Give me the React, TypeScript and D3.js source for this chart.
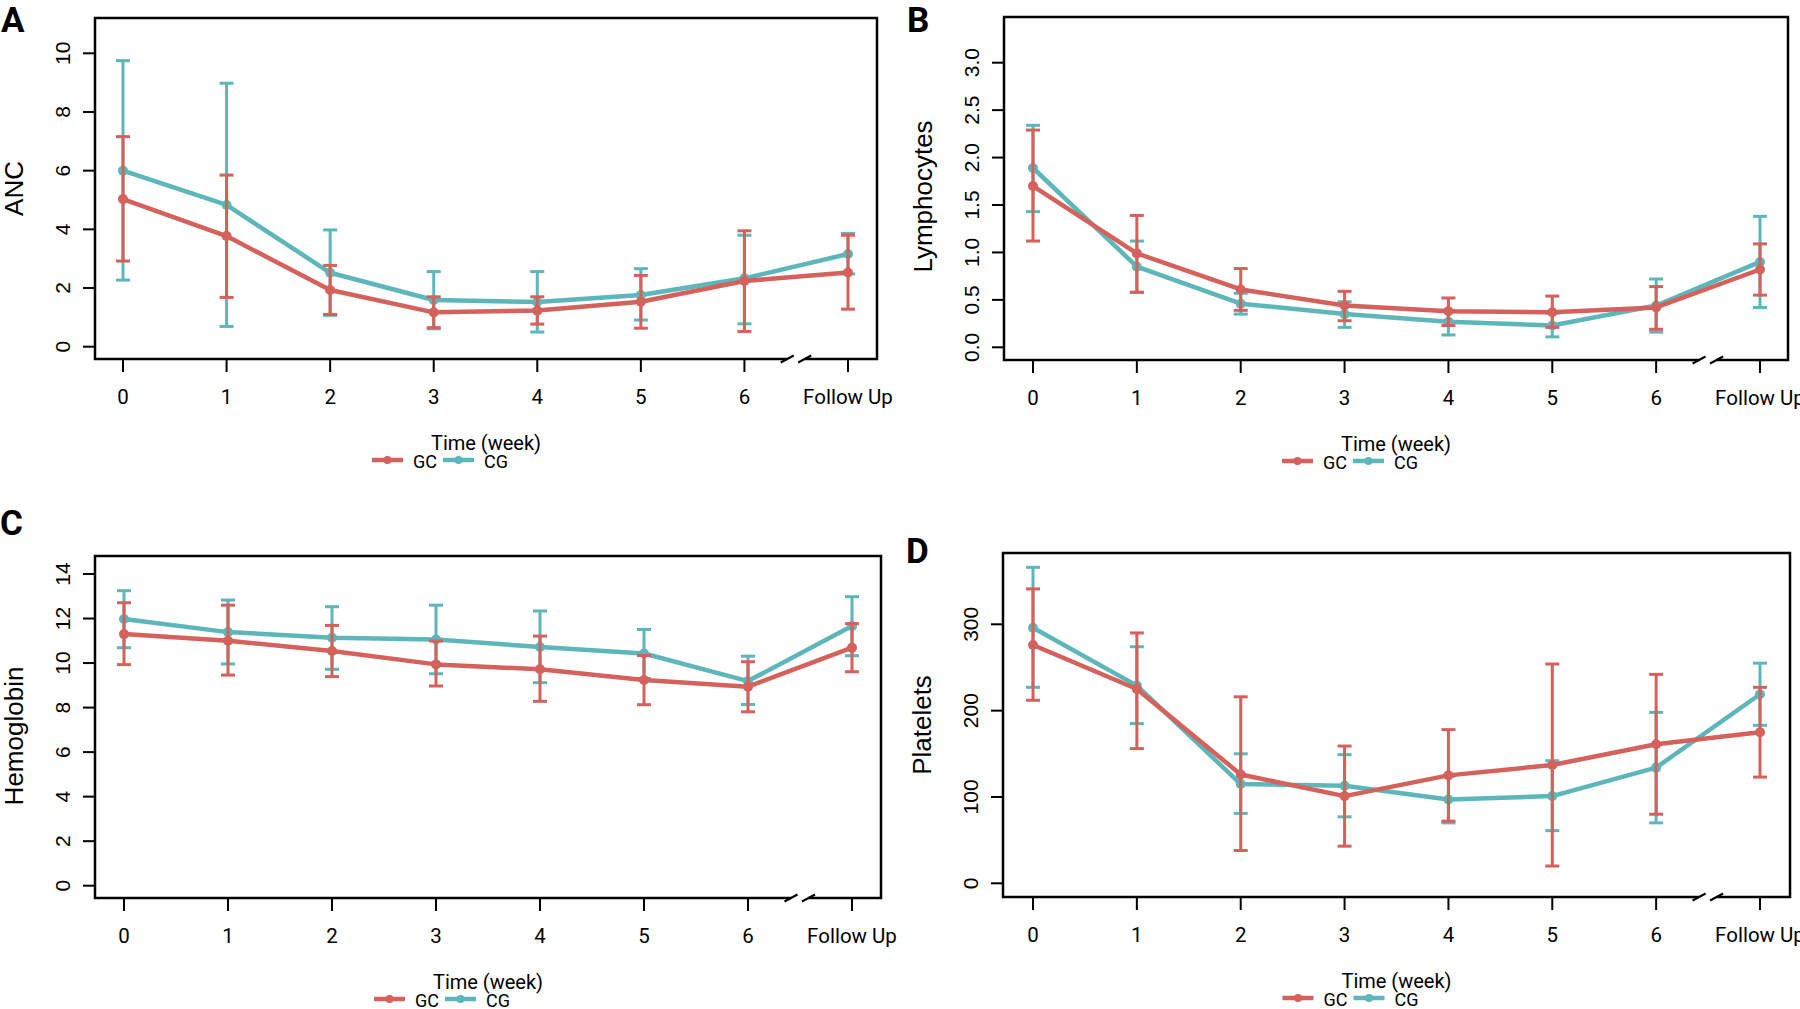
import React from 'react';
import * as d3 from 'd3';

// time points (x axis)
const weeks = ["0", "1", "2", "3", "4", "5", "6", "Follow Up"];

// A: ANC
const ancGcMean = [5.03, 3.77, 1.93, 1.17, 1.23, 1.53, 2.24, 2.53];
const ancGcHi = [7.16, 5.85, 2.77, 1.70, 1.70, 2.43, 3.95, 3.80];
const ancGcLo = [2.92, 1.68, 1.10, 0.65, 0.77, 0.63, 0.52, 1.28];
const ancCgMean = [6.00, 4.83, 2.52, 1.59, 1.52, 1.76, 2.33, 3.16];
const ancCgHi = [9.75, 8.98, 3.98, 2.56, 2.56, 2.66, 3.80, 3.86];
const ancCgLo = [2.27, 0.69, 1.07, 0.61, 0.50, 0.91, 0.78, 2.48];
const ancTicks = [0, 2, 4, 6, 8, 10];

// B: Lymphocytes
const lymGcMean = [1.70, 0.99, 0.61, 0.44, 0.38, 0.37, 0.42, 0.82];
const lymGcHi = [2.29, 1.39, 0.83, 0.59, 0.52, 0.54, 0.64, 1.09];
const lymGcLo = [1.12, 0.58, 0.39, 0.28, 0.23, 0.21, 0.19, 0.55];
const lymCgMean = [1.89, 0.85, 0.46, 0.35, 0.27, 0.23, 0.44, 0.90];
const lymCgHi = [2.34, 1.12, 0.57, 0.48, 0.39, 0.36, 0.72, 1.38];
const lymCgLo = [1.43, 0.58, 0.35, 0.21, 0.13, 0.11, 0.16, 0.42];
const lymTicks = [0, 0.5, 1, 1.5, 2, 2.5, 3];

// C: Hemoglobin
const hbGcMean = [11.30, 11.00, 10.54, 9.94, 9.72, 9.24, 8.94, 10.69];
const hbGcHi = [12.71, 12.60, 11.69, 10.99, 11.21, 10.34, 10.06, 11.77];
const hbGcLo = [9.93, 9.46, 9.39, 8.97, 8.28, 8.13, 7.81, 9.61];
const hbCgMean = [11.98, 11.39, 11.14, 11.06, 10.72, 10.43, 9.19, 11.66];
const hbCgHi = [13.25, 12.83, 12.53, 12.60, 12.34, 11.51, 10.31, 12.98];
const hbCgLo = [10.69, 9.96, 9.72, 9.52, 9.12, 9.31, 8.14, 10.33];
const hbTicks = [0, 2, 4, 6, 8, 10, 12, 14];

// D: Platelets
const pltGcMean = [276, 225, 126, 101, 125, 137, 161, 175];
const pltGcHi = [341, 290, 216, 159, 178, 254, 242, 227];
const pltGcLo = [212, 156, 38, 43, 72, 20, 80, 123];
const pltCgMean = [296, 229, 115, 113, 97, 101, 134, 219];
const pltCgHi = [366, 274, 150, 149, 124, 142, 198, 255];
const pltCgLo = [227, 185, 81, 77, 70, 61, 70, 183];
const pltTicks = [0, 100, 200, 300];

const groups = ["GC", "CG"];
const RED = "#D4615B";
const TEAL = "#5DB6BA";

const W = 1800, H = 1009;
const tickFont = "'Liberation Sans', Arial, sans-serif";
const narrowFont = "Roboto, 'Open Sans', sans-serif";

type Series = { mean: number[]; hi: number[]; lo: number[] };

const Panel = (props: any) => {
  const { letter, letterX, letterY, ylab, ylabShift, ticks, fmt, box, xPix, yDomain, yPix, gc, cg } = props;

  const x = d3.scaleLinear().domain([0, weeks.length - 1]).range(xPix);
  const y = d3.scaleLinear().domain(yDomain).range(yPix);
  const line = d3.line<number>().x((d, i) => x(i)).y(d => y(d));

  const midBreak = (x(6) + x(7)) / 2;
  const cx = (box.l + box.r) / 2;
  const cy = (box.t + box.b) / 2;

  const drawSeries = (s: Series, color: string) => (
    <g>
      <path d={line(s.mean) || ""} fill="none" stroke={color} strokeWidth={4.5} strokeLinejoin="round" />
      {s.mean.map((m, i) => (
        <g key={i}>
          <line x1={x(i)} x2={x(i)} y1={y(s.lo[i])} y2={y(s.hi[i])} stroke={color} strokeWidth={3} />
          <line x1={x(i) - 7} x2={x(i) + 7} y1={y(s.lo[i])} y2={y(s.lo[i])} stroke={color} strokeWidth={3} />
          <line x1={x(i) - 7} x2={x(i) + 7} y1={y(s.hi[i])} y2={y(s.hi[i])} stroke={color} strokeWidth={3} />
          <circle cx={x(i)} cy={y(m)} r={5} fill={color} />
        </g>
      ))}
    </g>
  );

  return (
    <g>
      <text x={letterX} y={letterY} fontFamily="'Liberation Sans Narrow', Roboto, sans-serif" fontWeight="bold" fontSize={35}>{letter}</text>

      {/* y axis */}
      {ticks.map((t: number) => (
        <g key={t}>
          <line x1={box.l - 12} x2={box.l} y1={y(t)} y2={y(t)} stroke="black" strokeWidth={2} />
          <text transform={`translate(${box.l - 25},${y(t)}) rotate(-90)`} textAnchor="middle"
            fontFamily={tickFont} fontSize={21}>{fmt(t)}</text>
        </g>
      ))}
      <text transform={`translate(${box.l - 72},${cy + ylabShift}) rotate(-90)`} textAnchor="middle"
        fontFamily={tickFont} fontSize={26}>{ylab}</text>

      {/* x axis */}
      {weeks.map((w, i) => (
        <g key={w}>
          <line x1={x(i)} x2={x(i)} y1={box.b} y2={box.b + 13} stroke="black" strokeWidth={2} />
          <text x={x(i)} y={box.b + 44.5} textAnchor="middle" fontFamily={narrowFont} fontSize={20.5}>{w}</text>
        </g>
      ))}

      {drawSeries(cg, TEAL)}
      {drawSeries(gc, RED)}

      <rect x={box.l} y={box.t} width={box.r - box.l} height={box.b - box.t} fill="none" stroke="black" strokeWidth={2.5} />

      {/* axis break */}
      <rect x={midBreak - 9} y={box.b - 2.5} width={17.5} height={5} fill="white" />
      {[midBreak - 9, midBreak + 8.5].map((c, k) => (
        <line key={k} x1={c - 6.5} x2={c + 6.5} y1={box.b + 3.5} y2={box.b - 3.5} stroke="black" strokeWidth={2} />
      ))}

      {/* legend */}
      <text x={cx} y={box.b + 91} textAnchor="middle" fontFamily={narrowFont} fontSize={20}>Time (week)</text>
      {groups.map((g, k) => {
        const color = k === 0 ? RED : TEAL;
        const x0 = cx + (k === 0 ? -114 : -43);
        return (
          <g key={g}>
            <line x1={x0} x2={x0 + 31} y1={box.b + 101} y2={box.b + 101} stroke={color} strokeWidth={4.5} />
            <circle cx={x0 + 15.5} cy={box.b + 101} r={4} fill={color} />
            <text x={x0 + 41} y={box.b + 109} fontFamily={narrowFont} fontSize={18}>{g}</text>
          </g>
        );
      })}
    </g>
  );
};

const App = () => {
  const panels = [
    {
      letter: "A", letterX: 1, letterY: 32, ylab: "ANC", ylabShift: 0, ticks: ancTicks, fmt: (v: number) => String(v),
      box: { l: 95, r: 877, t: 18, b: 359 }, xPix: [123, 848], yDomain: [0, 10], yPix: [346.7, 53.3],
      gc: { mean: ancGcMean, hi: ancGcHi, lo: ancGcLo }, cg: { mean: ancCgMean, hi: ancCgHi, lo: ancCgLo },
    },
    {
      letter: "B", letterX: 907, letterY: 32, ylab: "Lymphocytes", ylabShift: 8, ticks: lymTicks, fmt: d3.format(".1f"),
      box: { l: 1004, r: 1788, t: 17, b: 360 }, xPix: [1033, 1760], yDomain: [0, 3], yPix: [347.3, 62.7],
      gc: { mean: lymGcMean, hi: lymGcHi, lo: lymGcLo }, cg: { mean: lymCgMean, hi: lymCgHi, lo: lymCgLo },
    },
    {
      letter: "C", letterX: 0, letterY: 535, ylab: "Hemoglobin", ylabShift: 9, ticks: hbTicks, fmt: (v: number) => String(v),
      box: { l: 95, r: 881, t: 556, b: 898 }, xPix: [124, 852], yDomain: [0, 14], yPix: [885.7, 574],
      gc: { mean: hbGcMean, hi: hbGcHi, lo: hbGcLo }, cg: { mean: hbCgMean, hi: hbCgHi, lo: hbCgLo },
    },
    {
      letter: "D", letterX: 906, letterY: 563, ylab: "Platelets", ylabShift: 0, ticks: pltTicks, fmt: (v: number) => String(v),
      box: { l: 1003, r: 1790, t: 553, b: 897 }, xPix: [1033, 1760], yDomain: [0, 300], yPix: [883.3, 624.3],
      gc: { mean: pltGcMean, hi: pltGcHi, lo: pltGcLo }, cg: { mean: pltCgMean, hi: pltCgHi, lo: pltCgLo },
    },
  ];

  return (
    <svg width={W} height={H} style={{ position: "absolute", left: 0, top: 0, background: "white" }}>
      <rect width={W} height={H} fill="white" />
      {panels.map(p => <Panel key={p.letter} {...p} />)}
    </svg>
  );
};

export default App;
